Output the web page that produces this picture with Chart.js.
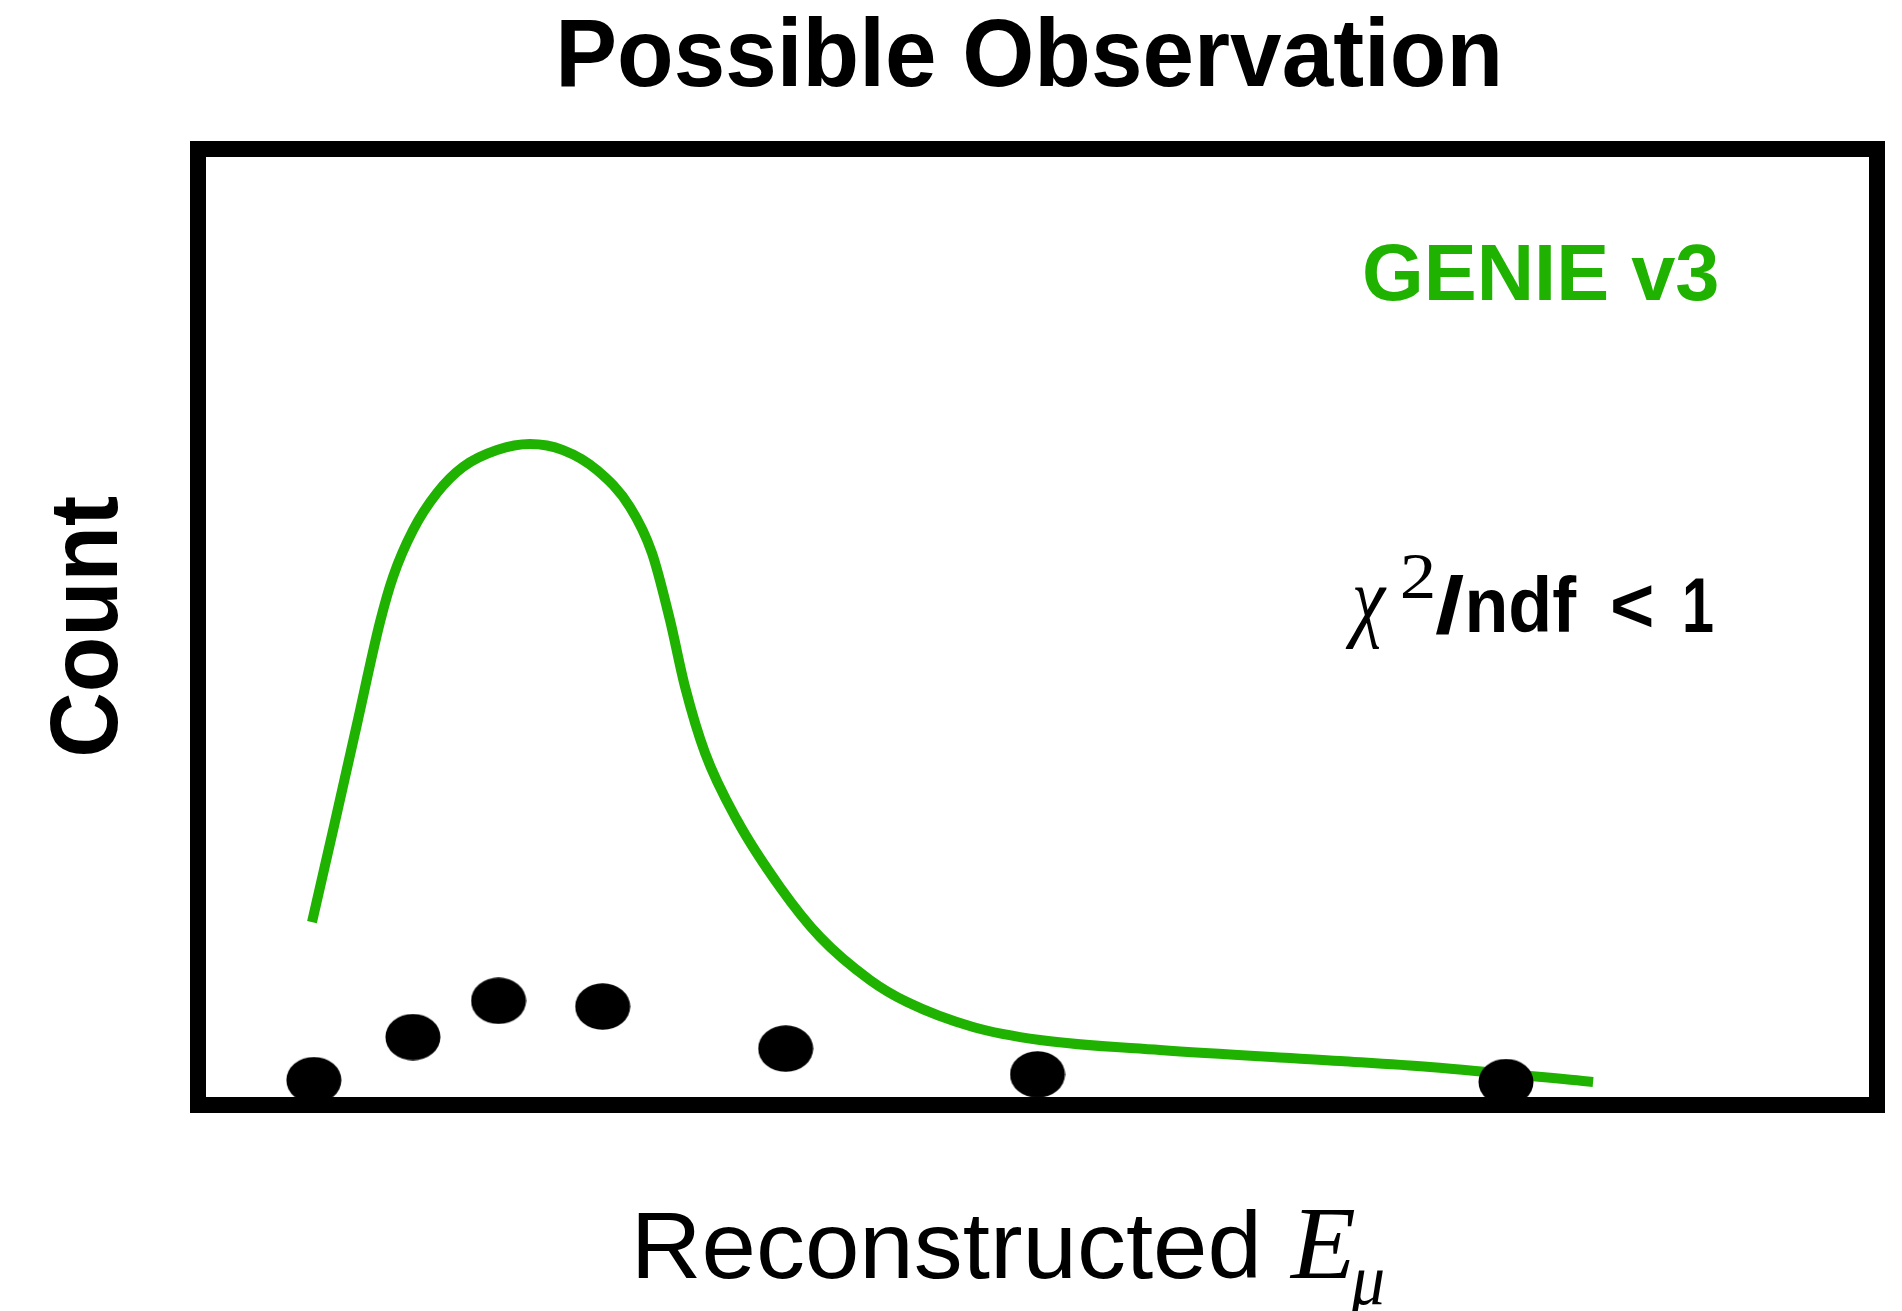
<!DOCTYPE html>
<html>
<head>
<meta charset="utf-8">
<script src="https://cdn.jsdelivr.net/npm/chart.js@4"></script>
<style>
  html, body { margin: 0; padding: 0; background: #ffffff; }
  #c { display: block; }
</style>
</head>
<body>
<canvas id="c" width="1902" height="1311"></canvas>
<script>
// ---- data (arbitrary units, axis 0..100) ----
const dotX = [6.9, 12.8, 17.9, 24.1, 35.0, 50.0, 77.9];
const dotY = [2.6, 7.1, 10.9, 10.3, 5.9, 3.2, 2.4];

const curveX = [6.79, 8.10, 9.47, 10.84, 11.61, 12.81, 14.23, 15.78, 17.81, 19.77, 21.74, 23.76, 25.73, 27.04, 28.11, 29.01, 30.20, 32.10, 34.66, 37.05, 40.02, 42.23, 46.16, 50.15, 57.30, 68.02, 73.38, 83.09];
const curveY = [19.14, 29.18, 39.85, 50.52, 55.23, 60.15, 64.02, 66.74, 68.51, 69.14, 68.51, 66.42, 62.55, 57.74, 50.73, 43.72, 36.82, 29.81, 22.80, 17.57, 13.08, 10.77, 8.16, 6.80, 5.75, 4.60, 3.97, 2.41];

const titleText = 'Possible Observation';
const xLabelText = 'Reconstructed';
const yLabelText = 'Count';
const modelLabel = 'GENIE v3';

const GREEN = 'rgb(31,178,0)';

// elliptical marker used as point style
const dotImg = document.createElement('canvas');
dotImg.width = 56; dotImg.height = 47;
(function () {
  const g = dotImg.getContext('2d');
  g.fillStyle = '#000';
  g.beginPath();
  g.ellipse(28, 23.5, 27.5, 23.3, 0, 0, Math.PI * 2);
  g.fill();
})();

function inkText(ctx, text, font, left, baseline, inkWidth) {
  ctx.font = font;
  ctx.textAlign = 'left';
  ctx.textBaseline = 'alphabetic';
  const m = ctx.measureText(text);
  const w = m.actualBoundingBoxLeft + m.actualBoundingBoxRight;
  const s = inkWidth ? inkWidth / w : 1;
  ctx.save();
  ctx.translate(left, baseline);
  ctx.scale(s, 1);
  ctx.fillText(text, m.actualBoundingBoxLeft, 0);
  ctx.restore();
}

const decor = {
  id: 'decor',
  afterDraw(chart) {
    const ctx = chart.ctx;
    const a = chart.chartArea;
    ctx.save();
    // frame
    ctx.strokeStyle = '#000';
    ctx.lineWidth = 16;
    ctx.lineJoin = 'miter';
    ctx.strokeRect(a.left, a.top, a.right - a.left, a.bottom - a.top);

    ctx.fillStyle = '#000';
    // title
    inkText(ctx, titleText, 'bold 97px "Liberation Sans", Arial, sans-serif', 561, 86, 937);

    // x label
    inkText(ctx, xLabelText, '95px "Liberation Sans", Arial, sans-serif', 638, 1278, 618);
    inkText(ctx, 'E', 'italic 103px "Liberation Serif", "Times New Roman", serif', 1289, 1278, 66);
    inkText(ctx, '\u03BC', 'italic 72px "Liberation Serif", "Times New Roman", serif', 1350, 1304, 33);

    // y label (rotated)
    ctx.save();
    ctx.translate(117, 755);
    ctx.rotate(-Math.PI / 2);
    inkText(ctx, yLabelText, 'bold 97px "Liberation Sans", Arial, sans-serif', 0, 0, 259);
    ctx.restore();

    // model label
    ctx.fillStyle = GREEN;
    inkText(ctx, modelLabel, 'bold 80px "Liberation Sans", Arial, sans-serif', 1365, 300, 352);

    // chi2 / ndf < 1
    ctx.fillStyle = '#000';
    inkText(ctx, '\u03C7', 'italic 90px "Liberation Serif", "Times New Roman", serif', 1345, 630, 42);
    inkText(ctx, '2', '66px "Liberation Serif", "Times New Roman", serif', 1402, 598, 31);
    inkText(ctx, '/', 'bold 80px "Liberation Sans", Arial, sans-serif', 1435, 633, 29);
    inkText(ctx, 'ndf', 'bold 78px "Liberation Sans", Arial, sans-serif', 1469, 632, 108);
    inkText(ctx, '<', 'bold 78px "Liberation Sans", Arial, sans-serif', 1613, 632, 39);
    inkText(ctx, '1', 'bold 78px "Liberation Sans", Arial, sans-serif', 1685, 632, 28);
    ctx.restore();
  }
};

new Chart(document.getElementById('c'), {
  type: 'scatter',
  data: {
    datasets: [
      {
        label: 'data',
        data: dotX.map((x, i) => ({ x: x, y: dotY[i] })),
        pointStyle: dotImg,
        pointRadius: 24,
        pointHoverRadius: 24,
        showLine: false,
        order: 0,
        clip: false
      },
      {
        label: modelLabel,
        data: curveX.map((x, i) => ({ x: x, y: curveY[i] })),
        showLine: true,
        borderColor: GREEN,
        borderWidth: 10,
        borderCapStyle: 'butt',
        pointRadius: 0,
        cubicInterpolationMode: 'monotone',
        fill: false,
        order: 1
      }
    ]
  },
  options: {
    responsive: false,
    animation: false,
    devicePixelRatio: 1,
    layout: { padding: { left: 198, right: 25, top: 149, bottom: 206 } },
    plugins: {
      legend: { display: false },
      tooltip: { enabled: false },
      title: { display: false }
    },
    scales: {
      x: { type: 'linear', min: 0, max: 100, display: false },
      y: { type: 'linear', min: 0, max: 100, display: false }
    },
    events: []
  },
  plugins: [decor]
});
</script>
</body>
</html>
